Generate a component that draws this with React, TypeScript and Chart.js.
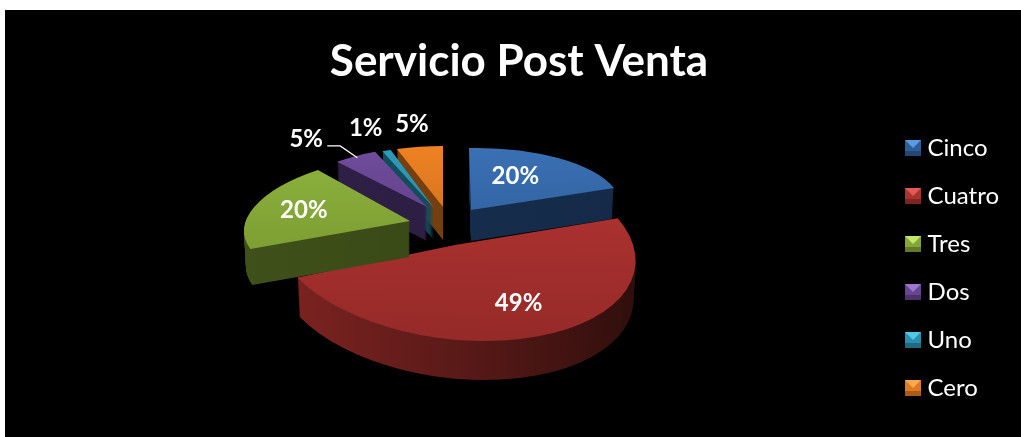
import React, { useEffect, useRef } from "react";
import { Chart, registerables } from "chart.js";

Chart.register(...registerables);

const categories = ["Cinco", "Cuatro", "Tres", "Dos", "Uno", "Cero"];
const seriesValues = [20, 49, 20, 5, 1, 5];
const titleText = "Servicio Post Venta";

const topColors = [
  ["#3a70b4", "#2c5b97"],
  ["#b53533", "#952a28"],
  ["#8db23d", "#76962f"],
  ["#704c9c", "#5a3b82"],
  ["#2b9cbb", "#22849f"],
  ["#ee8122", "#c46c20"],
];
const sideColors = [
  ["#182f50", "#142a48"],
  ["#7c2321", "#2e0e0c"],
  ["#3f5019", "#364516"],
  ["#2f2046", "#2a1c40"],
  ["#15505f", "#124655"],
  ["#7d4210", "#6e3a0e"],
];
const swatchColors = [
  ["#5b9be0", "#2f5d99", "#234674"],
  ["#e25a57", "#a83230", "#7c2523"],
  ["#c4e86a", "#84a636", "#617a28"],
  ["#9b78cc", "#674690", "#4c336b"],
  ["#52c8e6", "#2a8fac", "#1f6a80"],
  ["#fba94f", "#dd7a22", "#a85c1a"],
];

// Per-slice projection of the unit pie onto the page: [a, b, c, d, tx, ty, depth]
const sliceViews = [
  [151, 2, -3, 62, 471, 210, 31],
  [179, 24, 3, 96, 455, 245, 39],
  [165, -17, -2.9, 68.7, 410, 221, 36],
  [141, 0, -1.6, 60, 427, 207, 34],
  [140, 0, 0, 61, 434, 208, 32],
  [149, 0, 0, 61, 443, 207, 33],
];
const drawOrder = [5, 4, 3, 0, 1, 2];
// Label placement in each slice's unit space: [turn from mid-angle in degrees, radius]
const labelPlaces = [
  [-6.5, 0.61],
  [-5.1, 0.655],
  [1.7, 0.69],
  [-5.9, 1.44],
  [-0.6, 1.4],
  [0.3, 1.376],
];
const leaderSlice = 3;
const pageOrigin = [5, 10];

function makeSwatch(c: string[]) {
  const s = 16;
  const cv = document.createElement("canvas");
  cv.width = s;
  cv.height = s;
  const g = cv.getContext("2d")!;
  g.fillStyle = c[1];
  g.fillRect(0, 0, s, s);
  g.fillStyle = c[0];
  g.beginPath();
  g.moveTo(0, 0);
  g.lineTo(s, 0);
  g.lineTo(s / 2, s / 2);
  g.closePath();
  g.fill();
  g.fillStyle = c[2];
  g.fillRect(0, s - 5, s, 5);
  return cv;
}

const pie3d = {
  id: "pie3d",
  beforeDatasetsDraw(chart: any) {
    const ctx: CanvasRenderingContext2D = chart.ctx;
    const arcs = chart.getDatasetMeta(0).data;
    ctx.save();
    ctx.translate(-pageOrigin[0], -pageOrigin[1]);
    const place = (arc: any, i: number, angle: number, r: number) => {
      const [a, b, c, d, tx, ty] = sliceViews[i];
      const ux = Math.cos(angle) * r;
      const uy = Math.sin(angle) * r;
      return [tx + a * ux + b * uy, ty + c * ux + d * uy];
    };
    for (const i of drawOrder) {
      const arc = arcs[i];
      const [a, b, c, d, tx, ty, depth] = sliceViews[i];
      const R = arc.outerRadius;
      const paint = (dy: number, k: number, fill: (g: CanvasRenderingContext2D) => any) => {
        ctx.save();
        ctx.translate(tx, ty + dy);
        ctx.transform((a * k) / R, c / R, (b * k) / R, d / R, 0, 0);
        ctx.translate(-arc.x, -arc.y);
        const o = arc.options;
        const over = Object.create(o);
        Object.defineProperty(over, "backgroundColor", { value: fill(ctx) });
        Object.defineProperty(over, "borderWidth", { value: 0 });
        arc.options = over;
        arc.draw(ctx);
        arc.options = o;
        ctx.restore();
      };
      const sideFill = (g: CanvasRenderingContext2D) => {
        const gr = g.createLinearGradient(arc.x - R, 0, arc.x + R, 0);
        gr.addColorStop(0, sideColors[i][0]);
        gr.addColorStop(1, sideColors[i][1]);
        return gr;
      };
      const topFill = (g: CanvasRenderingContext2D) => {
        const gr = g.createLinearGradient(0, arc.y - R, 0, arc.y + R);
        gr.addColorStop(0, topColors[i][0]);
        gr.addColorStop(1, topColors[i][1]);
        return gr;
      };
      for (let dy = depth; dy >= 1; dy--) {
        paint(dy, 1 - (0.012 * dy) / depth, sideFill);
      }
      paint(0, 1, topFill);
    }
    ctx.fillStyle = "#ffffff";
    ctx.font = "bold 24px Lato";
    ctx.textAlign = "center";
    ctx.textBaseline = "middle";
    arcs.forEach((arc: any, i: number) => {
      const mid = (arc.startAngle + arc.endAngle) / 2;
      const [turn, r] = labelPlaces[i];
      const [x, y] = place(arc, i, mid + (turn * Math.PI) / 180, r);
      const total = seriesValues.reduce((p, v) => p + v, 0);
      ctx.fillText(`${Math.round((seriesValues[i] / total) * 100)}%`, x, y);
      if (i === leaderSlice) {
        const [ex, ey] = place(arc, i, mid, 0.97);
        ctx.strokeStyle = "#ffffff";
        ctx.lineWidth = 1.2;
        ctx.beginPath();
        ctx.moveTo(ex, ey);
        ctx.lineTo(x + 34, y + 7);
        ctx.lineTo(x + 21, y + 7);
        ctx.stroke();
      }
    });
    ctx.restore();
    return false;
  },
};

export default function App() {
  const ref = useRef<HTMLCanvasElement>(null);
  useEffect(() => {
    document.body.style.margin = "0";
    document.body.style.background = "#ffffff";
    const swatches = swatchColors.map(makeSwatch);
    const chart = new Chart(ref.current!, {
      type: "pie",
      data: {
        labels: categories,
        datasets: [{ data: seriesValues, backgroundColor: topColors.map((c) => c[0]), borderWidth: 0 }],
      },
      plugins: [pie3d as any],
      options: {
        animation: false,
        responsive: false,
        events: [],
        layout: { padding: { left: 24, right: 12, top: 0, bottom: 0 } },
        plugins: {
          tooltip: { enabled: false },
          title: {
            display: true,
            text: titleText,
            color: "#ffffff",
            font: { family: "Lato", size: 44, weight: "bold", lineHeight: 1.2 },
            padding: { top: 25, bottom: 10 },
          },
          legend: {
            display: true,
            position: "right",
            align: "start",
            title: {
              display: true,
              text: " ",
              color: "#000000",
              font: { family: "Lato", size: 1, lineHeight: 1 },
              padding: { top: 101, bottom: 0 },
            },
            labels: {
              color: "#ffffff",
              font: { family: "Lato", size: 24, lineHeight: 1 },
              padding: 24,
              usePointStyle: true,
              pointStyleWidth: 5,
              boxHeight: 16,
              generateLabels: () =>
                categories.map((t, i) => ({
                  text: t,
                  fontColor: "#ffffff",
                  pointStyle: swatches[i],
                  datasetIndex: 0,
                  index: i,
                  hidden: false,
                  lineWidth: 0,
                })),
            },
          },
        },
      },
    } as any);
    return () => chart.destroy();
  }, []);
  return (
    <div style={{ position: "absolute", left: pageOrigin[0], top: pageOrigin[1] }}>
      <canvas ref={ref} width={1016} height={427} style={{ display: "block", background: "#000000" }} />
    </div>
  );
}
